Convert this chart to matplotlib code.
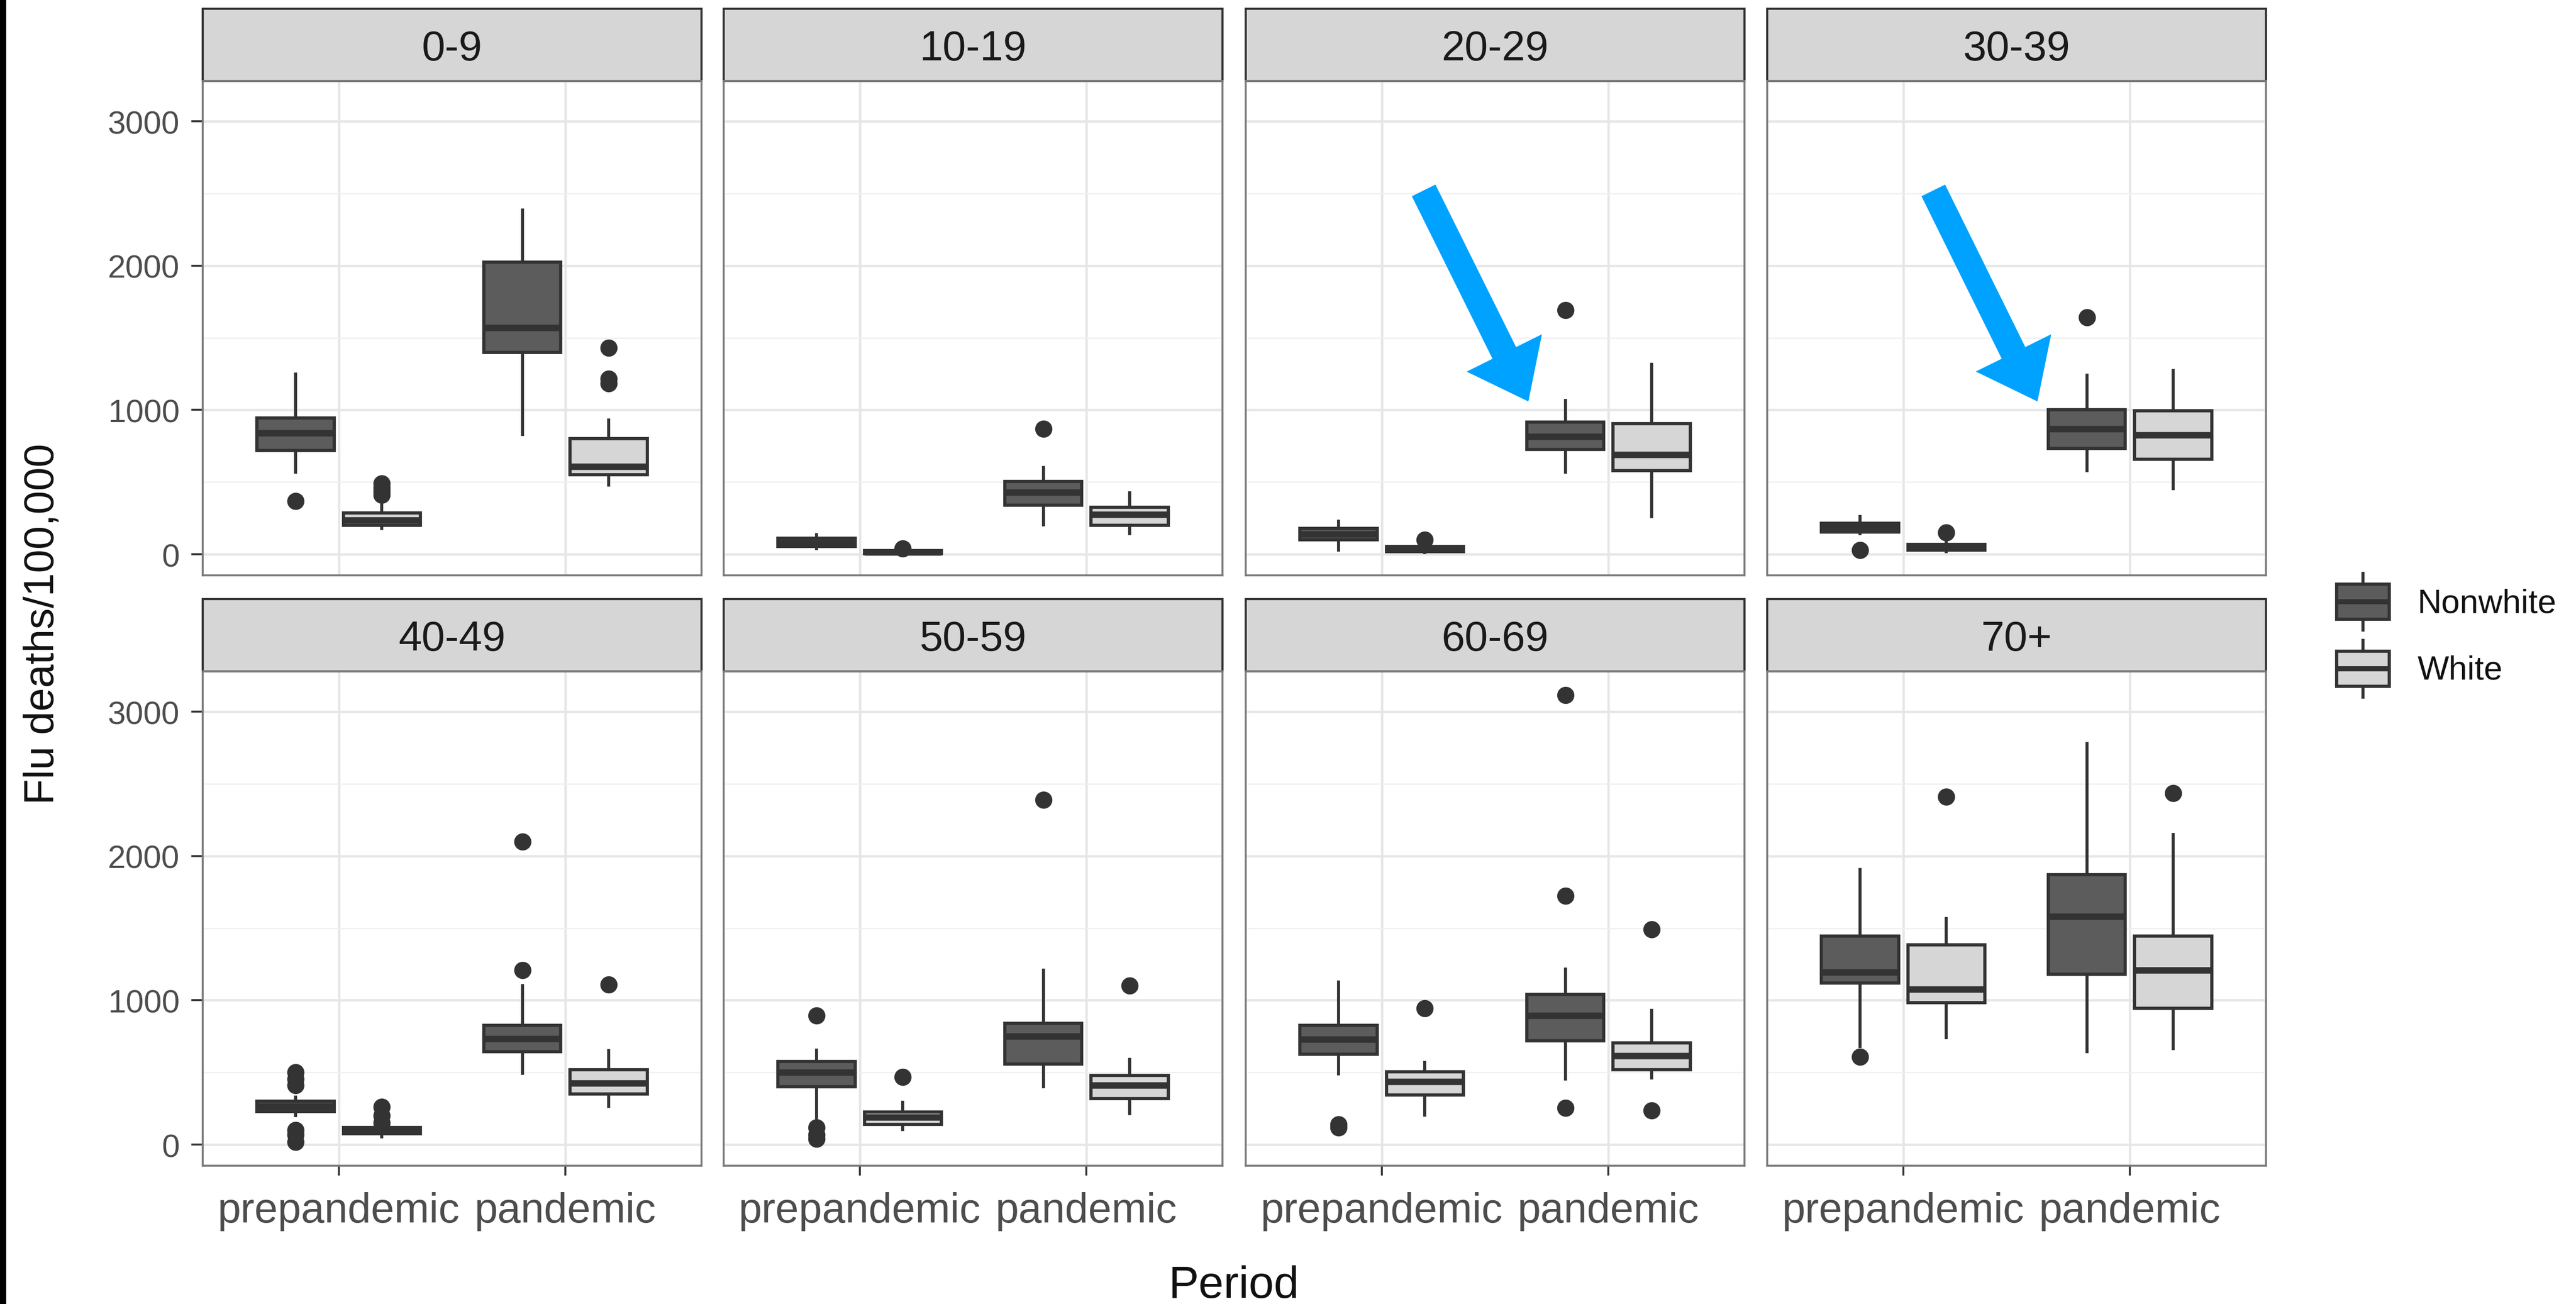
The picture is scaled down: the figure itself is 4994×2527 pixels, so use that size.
import matplotlib
matplotlib.use("Agg")
import matplotlib.pyplot as plt
from matplotlib.patches import Rectangle, FancyArrow
from matplotlib.lines import Line2D
from matplotlib.legend_handler import HandlerBase

plt.rcParams['font.family'] = ['Liberation Sans', 'DejaVu Sans']

age_groups = ["0-9", "10-19", "20-29", "30-39", "40-49", "50-59", "60-69", "70+"]
periods = ["prepandemic", "pandemic"]
races = ["Nonwhite", "White"]

# box summaries, per age group: [prepandemic, pandemic]
nonwhite_whislo = [[570, 830], [40, 205], [30, 570], [145, 580], [200, 495], [185, 400], [490, 455], [680, 645]]
nonwhite_q1 = [[720, 1400], [55, 340], [100, 725], [155, 735], [230, 645], [400, 560], [625, 720], [1120, 1180]]
nonwhite_med = [[840, 1570], [80, 430], [140, 815], [190, 870], [265, 735], [500, 750], [730, 895], [1195, 1580]]
nonwhite_q3 = [[945, 2025], [110, 505], [180, 915], [215, 1000], [300, 825], [575, 840], [825, 1040], [1445, 1870]]
nonwhite_whishi = [[1250, 2385], [135, 600], [230, 1065], [260, 1240], [330, 1100], [655, 1210], [1125, 1215], [1905, 2780]]
nonwhite_fliers = [[[370], []], [[], [870]], [[], [1690]], [[30], [1640]],
                   [[20, 70, 100, 410, 455, 500], [1210, 2100]], [[40, 70, 120, 895], [2390]],
                   [[120, 140], [255, 1725, 3115]], [[610], []]]

white_whislo = [[180, 480], [0, 145], [10, 260], [20, 455], [55, 265], [105, 215], [205, 460], [740, 665]]
white_q1 = [[200, 550], [5, 200], [20, 580], [30, 660], [75, 350], [140, 320], [345, 520], [985, 945]]
white_med = [[235, 610], [15, 275], [35, 690], [45, 825], [95, 425], [190, 410], [435, 615], [1075, 1210]]
white_q3 = [[285, 800], [25, 325], [55, 905], [70, 995], [120, 520], [225, 480], [505, 705], [1385, 1445]]
white_whishi = [[360, 930], [30, 425], [65, 1315], [80, 1275], [135, 650], [295, 590], [570, 930], [1565, 2150]]
white_fliers = [[[410, 435, 460, 490], [1185, 1215, 1430]], [[40], []], [[100], []], [[150], []],
                [[150, 200, 260], [1110]], [[470], [1100]], [[945], [235, 1490]], [[2410], [2435]]]

summaries = {
    "Nonwhite": (nonwhite_whislo, nonwhite_q1, nonwhite_med, nonwhite_q3, nonwhite_whishi, nonwhite_fliers),
    "White": (white_whislo, white_q1, white_med, white_q3, white_whishi, white_fliers),
}

fills = {"Nonwhite": "#5c5c5c", "White": "#d6d6d6"}
offsets = {"Nonwhite": -0.19, "White": 0.19}
line_col = "#333333"

W, H = 4994, 2528
fig = plt.figure(figsize=(W / 300, H / 300), dpi=300)
fig.patch.set_facecolor("white")

col_left = [393, 1403, 2415, 3426]
row_top = [158, 1302]
panel_w, panel_h = 967, 958
strip_h = 140

for k, grp in enumerate(age_groups):
    r, c = divmod(k, 4)
    ax = fig.add_axes([col_left[c] / W, 1 - (row_top[r] + panel_h) / H, panel_w / W, panel_h / H])
    ax.set_axisbelow(True)

    for race in races:
        lo, q1, med, q3, hi, fl = summaries[race]
        stats = []
        for p in range(2):
            stats.append(dict(whislo=lo[k][p], q1=q1[k][p], med=med[k][p],
                              q3=q3[k][p], whishi=hi[k][p], fliers=fl[k][p]))
        ax.bxp(stats, positions=[1 + offsets[race], 2 + offsets[race]], widths=0.34,
               patch_artist=True, showcaps=False, manage_ticks=False,
               boxprops=dict(facecolor=fills[race], edgecolor=line_col, linewidth=1.5),
               medianprops=dict(color=line_col, linewidth=3.0, solid_capstyle="butt"),
               whiskerprops=dict(color=line_col, linewidth=1.4),
               flierprops=dict(marker="o", markerfacecolor=line_col, markeredgecolor="none",
                               markersize=8))

    ax.set_xlim(0.4, 2.6)
    ax.set_ylim(-146, 3279)
    ax.set_xticks([1, 2])
    ax.set_xticklabels(periods)
    ax.set_yticks([0, 1000, 2000, 3000])
    ax.set_yticks([500, 1500, 2500], minor=True)
    ax.grid(which="major", color="#e6e6e6", linewidth=1.1)
    ax.grid(which="minor", axis="y", color="#f0f0f0", linewidth=0.6)
    ax.tick_params(which="minor", length=0)

    if c == 0:
        ax.tick_params(axis="y", length=5.2, width=0.9, color=line_col,
                       labelsize=15, labelcolor="#4d4d4d", pad=5.5)
    else:
        ax.tick_params(axis="y", length=0, labelleft=False)
    if r == 1:
        ax.tick_params(axis="x", length=4.5, width=0.9, color=line_col,
                       labelsize=19.5, labelcolor="#4d4d4d", pad=7.5)
    else:
        ax.tick_params(axis="x", length=0, labelbottom=False)

    for s in ax.spines.values():
        s.set_color("#7a7a7a")
        s.set_linewidth(0.9)

    sh = strip_h / panel_h
    ax.add_patch(Rectangle((0, 1), 1, sh, transform=ax.transAxes, clip_on=False,
                           facecolor="#d6d6d6", edgecolor=line_col, linewidth=1.0))
    ax.text(0.5, 1 + sh / 2 - 29 / panel_h, grp, transform=ax.transAxes, ha="center",
            va="baseline", fontsize=19.5, color="#1a1a1a")

fig.text(2392 / W, 1 - 2515 / H, "Period", ha="center", va="baseline", fontsize=21, color="#111111")
fig.text(82 / W, 1 - 1209 / H, "Flu deaths/100,000", rotation=90, ha="center", va="center",
         fontsize=19.6, color="#111111")


class BoxKey(HandlerBase):
    def create_artists(self, legend, orig_handle, xdescent, ydescent, width, height, fontsize, trans):
        x0, y0 = -xdescent, -ydescent
        box_h = height * 0.62
        by = y0 + (height - box_h) / 2
        xm = x0 + width / 2
        w1 = Line2D([xm, xm], [y0, by], color=line_col, lw=1.4, transform=trans)
        w2 = Line2D([xm, xm], [by + box_h, y0 + height], color=line_col, lw=1.4, transform=trans)
        rect = Rectangle((x0, by), width, box_h, facecolor=orig_handle.get_facecolor(),
                         edgecolor=line_col, lw=1.5, transform=trans)
        med = Line2D([x0, x0 + width], [y0 + height / 2] * 2, color=line_col, lw=2.4,
                     solid_capstyle="butt", transform=trans)
        return [w1, w2, rect, med]


handles = [Rectangle((0, 0), 1, 1, facecolor=fills[r]) for r in races]
fs = 15.5
leg = fig.legend(handles, races, handler_map={Rectangle: BoxKey()}, loc="upper left",
                 bbox_to_anchor=(4530 / W, 1 - 1112 / H), frameon=False, fontsize=fs,
                 handlelength=24.5 / fs, handleheight=2.24, labelspacing=0.31,
                 handletextpad=0.84, borderpad=0, borderaxespad=0)
for t in leg.get_texts():
    t.set_color("#111111")

# overlay in pixel coordinates for the highlight arrows and the left edge bar
ov = fig.add_axes([0, 0, 1, 1], zorder=10)
ov.set_xlim(0, W)
ov.set_ylim(H, 0)
ov.axis("off")
for x0, y0, x1, y1 in [(2760, 370, 2963, 779), (3748, 370, 3950, 779)]:
    ov.add_patch(FancyArrow(x0, y0, x1 - x0, y1 - y0, width=51, head_width=163, head_length=105,
                            length_includes_head=True, color="#00a2ff", linewidth=0))
ov.add_patch(Rectangle((0, 0), 10, H, color="black"))

fig.savefig("out.png", dpi=300)
